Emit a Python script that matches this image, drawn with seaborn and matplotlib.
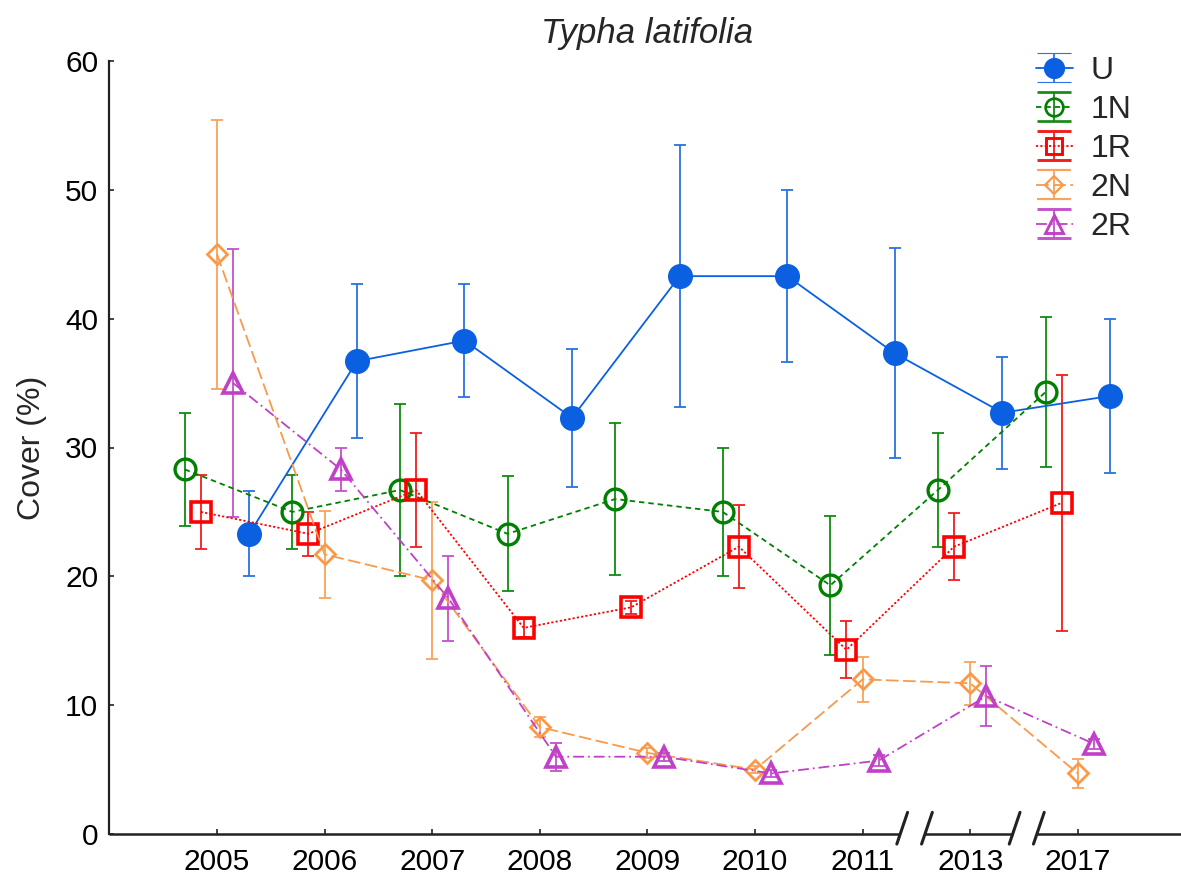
import numpy as np
import pandas as pd
import seaborn as sns
import matplotlib.pyplot as plt
import matplotlib.transforms as mtransforms
from matplotlib.legend_handler import HandlerErrorbar

# values (mean cover and standard error)
years = ['2005', '2006', '2007', '2008', '2009', '2010', '2011', '2013', '2017']
groups = ['U', '1N', '1R', '2N', '2R']

u_mean = [23.3, 36.7, 38.3, 32.3, 43.3, 43.3, 37.3, 32.7, 34.0]
u_se = [3.3, 6.0, 4.4, 5.35, 10.15, 6.65, 8.15, 4.35, 6.0]
n1_mean = [28.3, 25.0, 26.7, 23.3, 26.0, 25.0, 19.3, 26.7, 34.3]
n1_se = [4.4, 2.9, 6.7, 4.45, 5.9, 5.0, 5.4, 4.4, 5.8]
r1_mean = [25.0, 23.3, 26.7, 16.0, 17.6, 22.3, 14.3, 22.3, 25.7]
r1_se = [2.9, 1.7, 4.4, 0.7, 0.5, 3.2, 2.2, 2.6, 9.95]
n2_mean = [45.0, 21.7, 19.7, 8.3, 6.3, 5.0, 12.0, 11.7, 4.7]
n2_se = [10.45, 3.35, 6.1, 0.8, 0.4, 0.3, 1.75, 1.65, 1.15]
r2_mean = [35.0, 28.3, 18.3, 6.0, 6.0, 4.7, 5.7, 10.7, 7.0]
r2_se = [10.4, 1.65, 3.3, 1.1, 0.3, 0.3, 0.4, 2.35, 0.4]

means = {'U': u_mean, '1N': n1_mean, '1R': r1_mean, '2N': n2_mean, '2R': r2_mean}
ses = {'U': u_se, '1N': n1_se, '1R': r1_se, '2N': n2_se, '2R': r2_se}

rows = []
for g in groups:
    for i, yr in enumerate(years):
        rows.append({'group': g, 'year': yr, 'pos': i, 'cover': means[g][i], 'se': ses[g][i]})
df = pd.DataFrame(rows)

# per-group look
styles = {
    'U':  dict(off=0.30, color='#0A60E0', ecolor='#2A72E2', ls='-', marker='o', ms=17,
               mfc='#0A60E0', mew=1.0, lw=1.3),
    '1N': dict(off=-0.30, color='#008000', ecolor='#108A10', ls=(0, (3, 2.2)), marker='o', ms=15,
               mfc='none', mew=2.4, lw=1.3),
    '1R': dict(off=-0.15, color='#FF0000', ecolor='#F21C1C', ls=(0, (1.2, 1.2)), marker='s', ms=14,
               mfc='none', mew=2.6, lw=1.3),
    '2N': dict(off=0.00, color='#F99A4A', ecolor='#F9A45A', ls=(0, (7, 2.5)), marker='D', ms=10.5,
               mfc='none', mew=2.0, lw=1.3),
    '2R': dict(off=0.15, color='#C040C8', ecolor='#C452CC', ls=(0, (6, 2.2, 1, 2.2)), marker='^', ms=15,
               mfc='none', mew=2.6, lw=1.3),
}

sns.set_style('ticks')
plt.rcParams['font.family'] = ['Liberation Sans', 'DejaVu Sans']

fig = plt.figure(figsize=(11.81, 8.81), dpi=100)
ax = fig.add_axes([109.4 / 1181, 47 / 881, 1076 / 1181, 773 / 881])

handles = []
for g in groups:
    st = styles[g]
    sub = df[df['group'] == g]
    x = sub['pos'] + st['off']
    ax.errorbar(x, sub['cover'], yerr=sub['se'], fmt='none', ecolor=st['ecolor'],
                elinewidth=1.3, capsize=4, capthick=1.3, zorder=2)
    sns.lineplot(x=x.values, y=sub['cover'].values, ax=ax, color=st['color'], linestyle=st['ls'],
                 linewidth=st['lw'], marker=st['marker'], markersize=st['ms'],
                 markerfacecolor=st['mfc'], markeredgecolor=st['color'],
                 markeredgewidth=st['mew'], errorbar=None, sort=False, legend=False, zorder=3)
    # proxy for the legend
    h = ax.errorbar([np.nan], [np.nan], yerr=[1], color=st['color'], ecolor=st['ecolor'],
                    ls=st['ls'], lw=st['lw'], marker=st['marker'], ms=st['ms'] * 0.85,
                    mfc=st['mfc'], mec=st['color'], mew=st['mew'] * 0.8,
                    elinewidth=1.3, capsize=12, capthick=1.6, label=g)
    handles.append(h)

ax.set_xlim(-1, 9)
ax.set_ylim(0, 60)
ax.set_yticks(range(0, 61, 10))
ax.set_xticks(range(len(years)))
ax.set_xticklabels(years)
ax.tick_params(axis='both', direction='in', length=3.5, width=1.2, color='#222222',
               labelsize=21.5, labelcolor='black')
ax.tick_params(axis='x', pad=10)
ax.tick_params(axis='y', pad=8)

ax.set_ylabel('Cover (%)', fontsize=23, labelpad=13)
ax.set_xlabel('')
ax.set_title('Typha latifolia', fontsize=25, fontstyle='italic', pad=13)

ax.spines['top'].set_visible(False)
ax.spines['right'].set_visible(False)
ax.spines['left'].set_linewidth(1.6)
ax.spines['left'].set_color('#222222')
ax.spines['bottom'].set_visible(False)

# broken x axis
trans = mtransforms.blended_transform_factory(ax.transData, ax.transAxes)
for a, b in [(-1, 6.35), (6.58, 7.395), (7.62, 9.2)]:
    ax.plot([a, b], [0, 0], transform=trans, color='#222222', lw=1.8, clip_on=False,
            solid_capstyle='butt', zorder=5)
for xb in [6.35, 6.58, 7.395, 7.62]:
    ax.plot([xb - 0.032, xb + 0.068], [-0.013, 0.028], transform=trans, color='#222222',
            lw=2.2, clip_on=False, zorder=5)

leg = ax.legend(handles=handles, labels=groups, loc='upper left',
                bbox_to_anchor=(1036 / 1181, (881 - 56) / 881), bbox_transform=fig.transFigure,
                frameon=False, fontsize=23, handlelength=1.15, handletextpad=0.55,
                labelspacing=0.28, borderaxespad=0, borderpad=0,
                handler_map={type(handles[0]): HandlerErrorbar(xerr_size=0.5, yerr_size=0.45)})

fig.savefig('out.png', dpi=100)
